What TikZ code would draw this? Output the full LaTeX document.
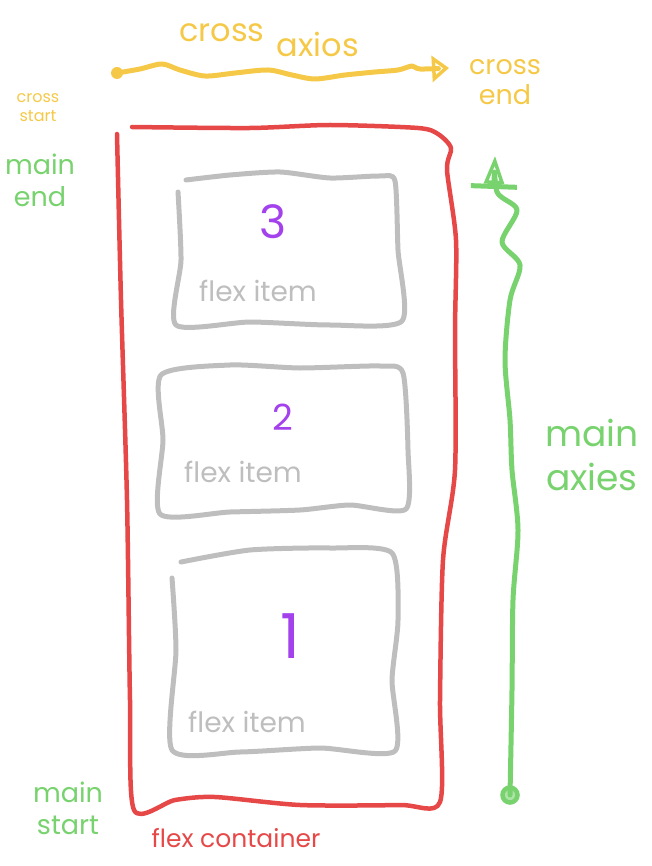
\documentclass[tikz,border=0pt]{standalone}
\usepackage{xcolor}
\usepackage{fontspec}
\setmainfont{Poppins}
\usepackage{tikz}
\usetikzlibrary{arrows.meta,positioning,calc}
\definecolor{CrossYellow}{HTML}{F5C947}
\definecolor{MainGreen}{HTML}{78D26E}
\definecolor{BoxRed}{HTML}{E64848}
\definecolor{ItemGray}{HTML}{BEBEBE}
\definecolor{NumPurple}{HTML}{A342EC}

\begin{document}
\begin{tikzpicture}[x=1pt,y=-1pt,
  hand/.style={line cap=round,line join=round},
  itembox/.style={hand,ItemGray,line width=5pt},
  itemtext/.style={ItemGray,font=\fontsize{28}{28}\selectfont},
  itemnum/.style={NumPurple,font=\fontsize{#1}{#1}\selectfont},
  crosstext/.style 2 args={CrossYellow,align=center,font=\fontsize{#1}{#2}\selectfont},
  maintext/.style 2 args={MainGreen,align=center,font=\fontsize{#1}{#2}\selectfont}]
\useasboundingbox (0,0) rectangle (652,866);

% flex container
\draw[hand,BoxRed,line width=4.5pt] plot[smooth,tension=0.45] coordinates {
  (117,134) (121,300) (127,500) (130,700) (134,810) (175,800) (215,797)
  (300,805) (400,805) (440,802) (440,700) (443,560) (455,470) (455,330)
  (456,240) (447,170) (451,148) (438,134) (418,128) (330,125) (250,128) (132,127)};
\node[BoxRed,font=\fontsize{25}{25}\selectfont] (container) at (236,838) {flex container};

% flex items
\draw[itembox] plot[smooth,tension=0.4] coordinates {
  (178,192) (181,260) (176,325) (250,322) (330,325) (402,321) (398,250)
  (395,181) (380,176) (330,178) (280,172) (230,175) (186,180)};
\node[itemnum=46] (n3) at (273,222) {3};
\node[itemtext] (t3) at (258,291) {flex item};

\draw[itembox] plot[smooth cycle,tension=0.4] coordinates {
  (161,375) (163,440) (160,514) (230,512) (300,510) (350,505) (406,509)
  (408,450) (403,373) (380,366) (300,368) (230,365)};
\node[itemnum=36] (n2) at (283,417) {2};
\node[itemtext] (t2) at (243,472) {flex item};

\draw[itembox] plot[smooth,tension=0.4] coordinates {
  (172,578) (176,650) (172,750) (240,752) (320,748) (395,751) (392,680)
  (398,620) (392,553) (330,548) (250,550) (181,562)};
\node[itemnum=62] (n1) at (290,636) {1};
\node[itemtext] (t1) at (247,722) {flex item};

% cross axis
\node[circle,fill=CrossYellow,inner sep=0pt,minimum size=12pt] (cstart) at (117,73) {};
\coordinate (cend) at (449,68);
\draw[hand,CrossYellow,line width=5pt,-{Triangle[open,length=17pt,width=26pt,line width=3.5pt]}]
  plot[smooth,tension=0.5] coordinates {(cstart) (140,69) (162,64) (180,70) (205,76)
  (235,73) (268,70) (292,75) (315,79) (345,75) (375,72) (398,70) (412,66) (420,69) (cend)};
\node[crosstext={32}{32}] (crossw) at (222,33) {cross};
\node[crosstext={32}{32}] (axiosw) at (318,44) {axios};
\node[crosstext={27}{30}] (crossend) at (505,82) {cross\\end};
\node[crosstext={16}{19}] (crossstart) at (38,108) {cross\\start};

% main axis
\node[circle,draw=MainGreen,fill=MainGreen!60,line width=4.5pt,inner sep=0pt,minimum size=15pt] (mstart) at (510,795) {};
\coordinate (mend) at (495,156);
\draw[hand,MainGreen,line width=5pt,-{Bar[width=46pt,line width=5pt]Triangle[open,length=28pt,width=20pt,line width=3.5pt]}]
  plot[smooth,tension=0.5] coordinates {(mstart) (512,690) (513,600) (518,530)
  (512,470) (510,420) (505,360) (510,300) (520,265) (502,242) (517,210) (497,192) (mend)};
\node[maintext={36}{44}] (mainaxies) at (592,455) {main\\axies};
\node[maintext={27}{32}] (mainend) at (40,180) {main\\end};
\node[maintext={27}{32}] (mainstart) at (68,808) {main\\start};
\end{tikzpicture}
\end{document}
